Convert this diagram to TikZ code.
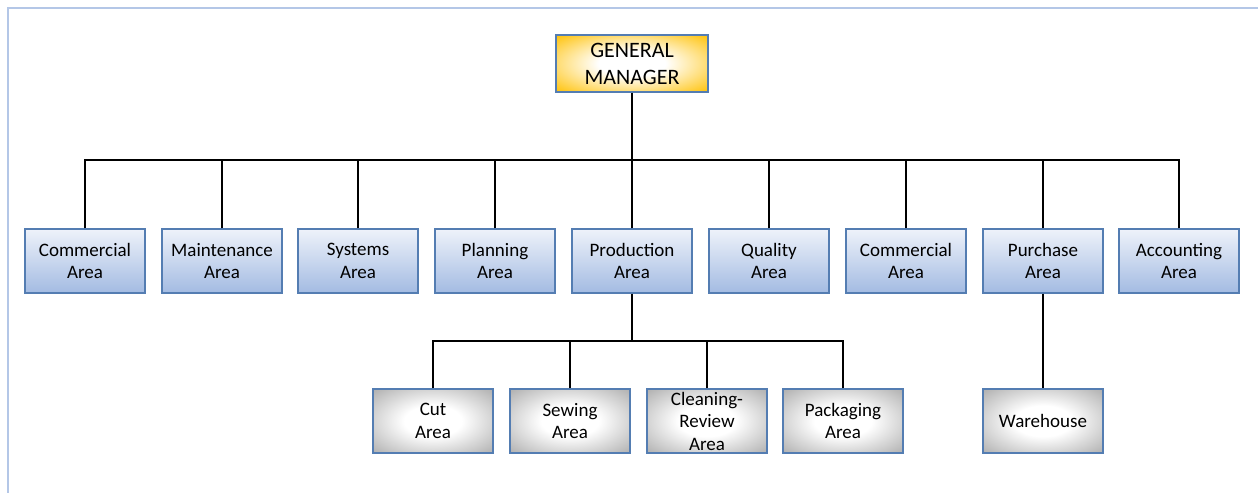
\documentclass[tikz,border=0pt]{standalone}
\usepackage{fontspec}
\setmainfont{Carlito}
\usepackage{tikz}
\usetikzlibrary{arrows}

\definecolor{boxline}{RGB}{84,125,178}
\definecolor{areatop}{RGB}{238,242,250}
\definecolor{areabottom}{RGB}{163,187,226}
\definecolor{gmgold}{RGB}{255,192,0}
\definecolor{subgray}{RGB}{160,160,160}
\definecolor{frameblue}{RGB}{180,199,231}

\pgfdeclareradialshading{gmshade}{\pgfpoint{0bp}{0bp}}{color(0bp)=(white);color(11bp)=(white);color(36bp)=(gmgold);color(50bp)=(gmgold)}
\pgfdeclareradialshading{subshade}{\pgfpoint{0bp}{0bp}}{color(0bp)=(white);color(12bp)=(white);color(40bp)=(subgray);color(50bp)=(subgray)}

\begin{document}
\begin{tikzpicture}[x=1pt,y=-1pt,
	gm_node/.style={rectangle,draw=boxline,line width=1.2pt,shading=gmshade,minimum width=152pt,minimum height=57pt,inner sep=0pt,align=center,font=\fontsize{22}{27}\selectfont},
	area_node/.style={rectangle,draw=boxline,line width=1.2pt,top color=areatop,bottom color=areabottom,minimum width=120pt,minimum height=64pt,inner sep=0pt,align=center,font=\fontsize{19}{22.5}\selectfont},
	sub_node/.style={rectangle,draw=boxline,line width=1.2pt,shading=subshade,minimum width=120pt,minimum height=64pt,inner sep=0pt,align=center,font=\fontsize{19}{22.5}\selectfont},
	link/.style={draw=black,line width=2pt}]

		\useasboundingbox (0,0) rectangle (1258,493);
		\draw[frameblue,line width=2pt] (1258,8) -- (8,8) -- (8,493);

		\node[gm_node] (0) at (632,63.5) {GENERAL\\MANAGER};

		\node[area_node] (1) at (85,261) {Commercial\\Area};
		\node[area_node] (2) at (222,261) {Maintenance\\Area};
		\node[area_node] (3) at (358,261) {Systems\\Area};
		\node[area_node] (4) at (495,261) {Planning\\Area};
		\node[area_node] (5) at (632,261) {Production\\Area};
		\node[area_node] (6) at (769,261) {Quality\\Area};
		\node[area_node] (7) at (906,261) {Commercial\\Area};
		\node[area_node] (8) at (1043,261) {Purchase\\Area};
		\node[area_node] (9) at (1179,261) {Accounting\\Area};

		\node[sub_node] (10) at (433,421) {Cut\\Area};
		\node[sub_node] (11) at (570,421) {Sewing\\Area};
		\node[sub_node] (12) at (707,421) {Cleaning-\\Review\\Area};
		\node[sub_node] (13) at (843,421) {Packaging\\Area};
		\node[sub_node] (14) at (1043,421) {Warehouse};

		\coordinate (b0) at (632,160);
		\coordinate (b5) at (632,341);

		\draw[link,line width=2.4pt] (0) -- (b0);
		\draw[link] (1) |- (b0);
		\draw[link] (2) |- (b0);
		\draw[link] (3) |- (b0);
		\draw[link] (4) |- (b0);
		\draw[link] (5) -- (b0);
		\draw[link] (6) |- (b0);
		\draw[link] (7) |- (b0);
		\draw[link] (8) |- (b0);
		\draw[link] (9) |- (b0);

		\draw[link] (5) -- (b5);
		\draw[link] (10) |- (b5);
		\draw[link] (11) |- (b5);
		\draw[link] (12) |- (b5);
		\draw[link] (13) |- (b5);
		\draw[link] (8) -- (14);
		\end{tikzpicture}
\end{document}
